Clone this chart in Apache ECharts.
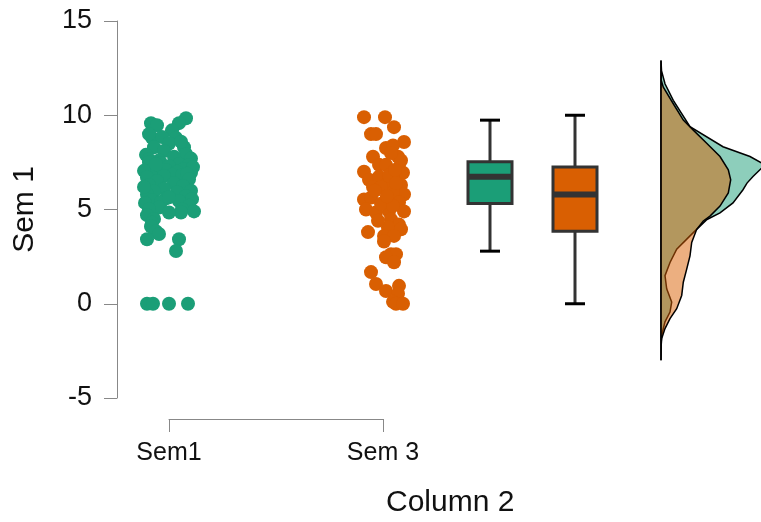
<!DOCTYPE html>
<html>
<head>
<meta charset="utf-8">
<script src="https://cdn.jsdelivr.net/npm/echarts@6/dist/echarts.min.js"></script>
<style>
  html, body { margin: 0; padding: 0; background: #fff; }
  #main { width: 761px; height: 522px; }
</style>
</head>
<body>
<div id="main"></div>
<script>
var FONT = 'Liberation Sans, Arial, sans-serif';
var GREEN = '#1B9E77';
var ORANGE = '#D95F02';

var groups = ['Sem1', 'Sem 3'];
// layout positions on the hidden x axis (px-like units)
var groupX = [52, 266];
var boxX = [373, 458];
var densBase = 544;

// Sem1 raw points: values and horizontal jitter
var sem1Values = [9.58, 9.47, 9.84, 9.58, 9.2, 8.8, 8.84, 8.8, 8.3, 8.5, 8.3, 7.9, 7.95, 8.1, 7.7, 7.8, 8.6, 7.6, 9.0, 7.65,
  7.5, 7.45, 7.4, 7.35, 7.3, 7.2, 7.15, 7.1, 7.0, 7.0, 6.95, 6.9, 6.85, 6.8, 6.8, 6.78, 7.25, 7.05, 6.9, 7.4,
  6.7, 6.6, 6.5, 6.4, 6.3, 6.25, 6.1, 6.0, 5.95, 5.9, 5.8, 5.7, 5.6, 5.55, 5.5, 5.45, 5.4, 5.35, 6.2, 5.65,
  5.2, 5.1, 5.0, 5.0, 4.9, 4.84, 4.84, 4.7, 4.5, 4.3, 4.1, 3.84, 3.7, 3.42, 3.42, 2.8, 0, 0, 0, 0];
var sem1Jitter = [-18, -12, 17, 10, 3, -17, -7, 7, -15, 0, 15, -23, 17, -5, 22, 5, 12, -10, -20, -20,
  -20, -8, 10, 20, 0, -15, 15, -3, -22, 8, 22, -10, 3, -18, 13, -5, 24, -25, 18, -13,
  -22, 20, -12, 5, -20, 14, -5, 22, -15, 8, -22, 17, -3, 23, -17, 10, -8, -24, -25, 0,
  20, -10, -20, 13, 25, 12, 0, -22, -15, -17, -18, -13, -10, -22, 10, 7, -22, -16, 0, 19];

// Sem 3 raw points
var sem3Values = [9.9, 9.9, 9.37, 9.0, 9.0, 8.58, 8.26, 8.4, 7.8, 7.8, 7.37, 7.37, 7.0, 7.2, 6.95, 6.58, 6.74, 6.68, 6.3, 6.3,
  5.8, 5.9, 5.53, 5.63, 5.42, 5.37, 5.0, 4.84, 4.9, 4.9, 4.47, 4.2, 4.05, 3.95, 3.8, 3.6, 3.6, 3.3, 2.63, 2.63,
  2.47, 2.2, 1.68, 1.05, 0.68, 0.95, 0.53, 0.1, 0, 0, 6.2, 6.2, 6.8, 6.4, 5.3, 5.2, 4.4, 7.6, 8.0, 6.0, 5.7, 7.1];
var sem3Jitter = [-19, 2, 11, -12, -7, 21, 3, 10, -10, 15, -4, 3, -19, 16, 20, -14, -4, 10, 18, 3,
  21, 10, -19, -12, 3, 16, -17, -7, 6, 21, 8, 16, 5, 18, -15, 1, 11, 1, 8, 13,
  3, 11, -12, -7, 3, 16, 15, 10, 13, 20, -10, -2, 6, 13, -2, 10, -5, 18, 8, -8, 4, 12];

// box stats: [min, Q1, median, Q3, max]
var boxStats = [
  [2.79, 5.32, 6.74, 7.53, 9.74],
  [0, 3.84, 5.79, 7.26, 10]
];

// half-violin densities: value along y, width to the right of baseline
var sem1DensY = [12.9, 12.37, 11.67, 10.79, 9.39, 8.33, 7.81, 7.37, 6.75, 6.40, 6.05, 5.35, 4.82, 4.47, 4.12, 3.60, 2.89, 2.19, 1.49, 0.79, 0.09, -0.44, -0.96, -1.67, -2.02, -3.0];
var sem1DensW = [0, 0.5, 4, 12.3, 29, 62, 89, 104, 92, 86, 82, 72, 59, 46, 39, 29, 15.7, 9, 4, 5.7, 10.7, 9, 4, 0.7, 0.2, 0];
var sem3DensY = [12.9, 11.84, 11.49, 10.61, 9.74, 9.21, 8.51, 7.81, 7.11, 6.58, 5.88, 5.18, 4.65, 4.39, 3.95, 3.25, 2.54, 1.84, 1.14, 0.44, -0.26, -0.79, -1.32, -1.84, -2.19, -3.0];
var sem3DensW = [0, 0.3, 2.3, 12.3, 22.3, 32.3, 45.7, 59, 67.3, 69.7, 67.3, 59, 49, 42.3, 35.7, 30.7, 29, 25.7, 22.3, 20.7, 15.7, 9, 4, 0.7, 0.2, 0];

var chart = echarts.init(document.getElementById('main'));

function jitterData(values, jitter, cx) {
  return values.map(function (v, i) { return [cx + jitter[i], v]; });
}

function densitySeries(ys, ws, fill) {
  return {
    type: 'custom',
    xAxisIndex: 0,
    yAxisIndex: 0,
    silent: true,
    data: [[densBase, 0]],
    renderItem: function (params, api) {
      var pts = ys.map(function (y, i) { return api.coord([densBase + ws[i], y]); });
      return {
        type: 'polygon',
        shape: { points: pts },
        style: { fill: fill, stroke: '#000', lineWidth: 1.5 }
      };
    }
  };
}

function boxSeries(idx, color) {
  return {
    type: 'custom',
    xAxisIndex: 0,
    yAxisIndex: 0,
    silent: true,
    data: [[boxX[idx]].concat(boxStats[idx])],
    renderItem: function (params, api) {
      var x = api.value(0);
      var pMin = api.coord([x, api.value(1)]);
      var pQ1 = api.coord([x, api.value(2)]);
      var pMed = api.coord([x, api.value(3)]);
      var pQ3 = api.coord([x, api.value(4)]);
      var pMax = api.coord([x, api.value(5)]);
      var hw = 22, cw = 10;
      var line = { stroke: '#333', lineWidth: 3 };
      return {
        type: 'group',
        children: [
          { type: 'line', shape: { x1: pMin[0], y1: pMin[1], x2: pQ1[0], y2: pQ1[1] }, style: line },
          { type: 'line', shape: { x1: pQ3[0], y1: pQ3[1], x2: pMax[0], y2: pMax[1] }, style: line },
          { type: 'line', shape: { x1: pMin[0] - cw, y1: pMin[1], x2: pMin[0] + cw, y2: pMin[1] }, style: { stroke: '#000', lineWidth: 3 } },
          { type: 'line', shape: { x1: pMax[0] - cw, y1: pMax[1], x2: pMax[0] + cw, y2: pMax[1] }, style: { stroke: '#000', lineWidth: 3 } },
          { type: 'rect', shape: { x: pQ3[0] - hw, y: pQ3[1], width: hw * 2, height: pQ1[1] - pQ3[1] },
            style: { fill: color, stroke: '#333', lineWidth: 3 } },
          { type: 'line', shape: { x1: pMed[0] - hw, y1: pMed[1], x2: pMed[0] + hw, y2: pMed[1] }, style: { stroke: '#333', lineWidth: 6 } }
        ]
      };
    }
  };
}

var option = {
  animation: false,
  backgroundColor: '#fff',
  grid: [
    { left: 117, right: 0, top: 21, height: 377 },
    { left: 169, width: 214, top: 418, height: 1 }
  ],
  xAxis: [
    { gridIndex: 0, type: 'value', min: 0, max: 644, show: false },
    {
      gridIndex: 1, type: 'category', data: groups, boundaryGap: false,
      axisLine: { lineStyle: { color: '#888', width: 1 } },
      axisTick: { length: 13, interval: 0, lineStyle: { color: '#888' } },
      axisLabel: { interval: 0, fontSize: 25, color: '#111', margin: 22, fontFamily: FONT },
      splitLine: { show: false }
    }
  ],
  yAxis: [
    {
      gridIndex: 0, type: 'value', min: -5, max: 15, interval: 5,
      axisLine: { show: true, lineStyle: { color: '#888', width: 1 } },
      axisTick: { show: true, length: 13, lineStyle: { color: '#888' } },
      axisLabel: { fontSize: 27, color: '#111', margin: 25, fontFamily: FONT },
      splitLine: { show: false },
      name: 'Sem 1', nameLocation: 'middle', nameRotate: 90, nameGap: 77,
      nameTextStyle: { fontSize: 30, color: '#111', fontFamily: FONT }
    },
    { gridIndex: 1, type: 'value', show: false }
  ],
  graphic: [
    { type: 'text', left: 386, top: 488, style: { text: 'Column 2', font: '30px ' + FONT, fill: '#111' } }
  ],
  series: [
    densitySeries(sem1DensY, sem1DensW, 'rgba(27,158,119,0.5)'),
    densitySeries(sem3DensY, sem3DensW, 'rgba(217,95,2,0.5)'),
    {
      type: 'scatter', xAxisIndex: 0, yAxisIndex: 0, symbolSize: 14,
      itemStyle: { color: GREEN, opacity: 1 },
      data: jitterData(sem1Values, sem1Jitter, groupX[0])
    },
    {
      type: 'scatter', xAxisIndex: 0, yAxisIndex: 0, symbolSize: 14,
      itemStyle: { color: ORANGE, opacity: 1 },
      data: jitterData(sem3Values, sem3Jitter, groupX[1])
    },
    boxSeries(0, GREEN),
    boxSeries(1, ORANGE)
  ]
};

chart.setOption(option);
</script>
</body>
</html>
